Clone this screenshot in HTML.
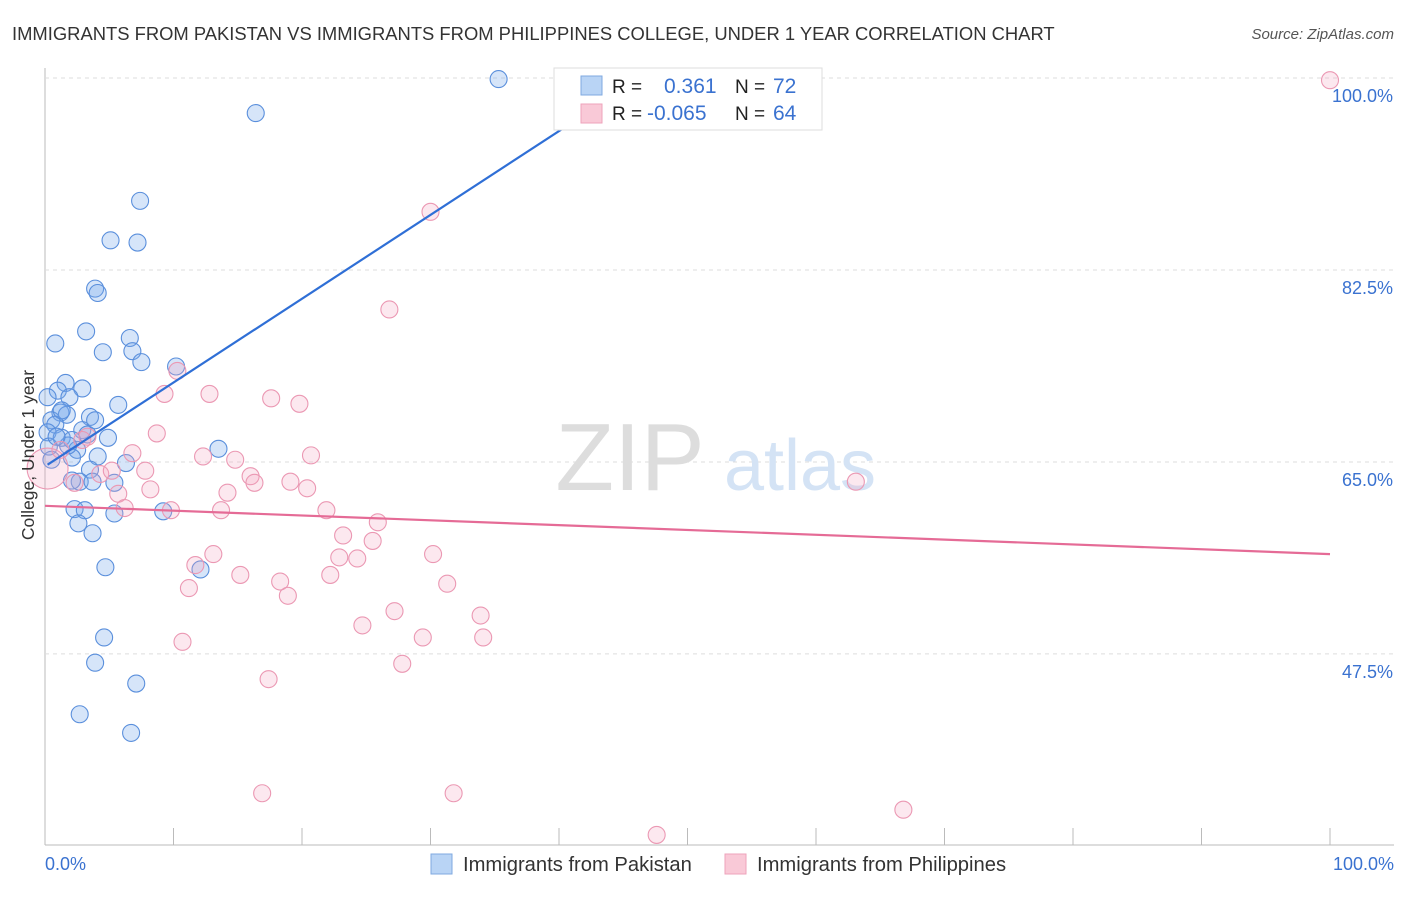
<!DOCTYPE html>
<html><head><meta charset="utf-8"><style>
body{margin:0;background:#fff;font-family:"Liberation Sans",sans-serif}
svg text{font-family:"Liberation Sans",sans-serif}
</style></head><body>
<svg width="1406" height="892">
<text x="12" y="40" font-size="18.4" fill="#333">IMMIGRANTS FROM PAKISTAN VS IMMIGRANTS FROM PHILIPPINES COLLEGE, UNDER 1 YEAR CORRELATION CHART</text>
<text x="1394" y="39" font-size="15" fill="#555" font-style="italic" text-anchor="end">Source: ZipAtlas.com</text>
<g id="grid"></g>
<text x="630" y="490" font-size="96" fill="#ddd" text-anchor="middle" font-family="Liberation Serif">ZIP</text>
<text x="800" y="490" font-size="72" fill="#d4e3f5" text-anchor="middle">atlas</text>
<g id="marks"></g>
<text x="34" y="455" font-size="17.5" fill="#333" text-anchor="middle" transform="rotate(-90 34 455)">College, Under 1 year</text>
<g>
<rect x="554" y="68" width="268" height="62" fill="#fff" stroke="#ddd"/>
<rect x="581" y="76" width="21" height="19" fill="#b9d4f5" stroke="#7fa9e0"/>
<rect x="581" y="104" width="21" height="19" fill="#f9c9d7" stroke="#eea3bb"/>
<text x="612" y="93" font-size="19" fill="#222">R =</text><text x="664" y="93" font-size="21" fill="#3a72d0">0.361</text>
<text x="735" y="93" font-size="19" fill="#222">N =</text><text x="773" y="93" font-size="21" fill="#3a72d0">72</text>
<text x="612" y="120" font-size="19" fill="#222">R =</text><text x="647" y="120" font-size="21" fill="#3a72d0">-0.065</text>
<text x="735" y="120" font-size="19" fill="#222">N =</text><text x="773" y="120" font-size="21" fill="#3a72d0">64</text>
</g>
<g>
<rect x="431" y="854" width="21" height="20" fill="#b9d4f5" stroke="#7fa9e0"/>
<text x="463" y="871" font-size="20.2" fill="#333">Immigrants from Pakistan</text>
<rect x="725" y="854" width="21" height="20" fill="#f9c9d7" stroke="#eea3bb"/>
<text x="757" y="871" font-size="20.2" fill="#333">Immigrants from Philippines</text>
</g>
</svg>
<script>
const yTicks=[100,82.5,65,47.5];
const yTickLabels=["100.0%","82.5%","65.0%","47.5%"];
const xEndLabels=["0.0%","100.0%"];
const blueX=[35.3,16.4,7.4,5.1,7.2,3.9,4.1,3.2,0.8,6.6,4.5,6.8,7.5,10.2,1.6,2.9,1.0,1.9,0.2,5.7,1.2,1.7,3.5,0.5,0.8,2.9,0.2,4.9,1.3,2.1,3.3,13.5,0.3,2.5,4.1,2.1,6.3,3.5,0.5,2.7,3.7,2.1,5.4,2.3,3.1,5.4,9.2,2.6,3.7,12.1,4.7,4.6,3.9,7.1,2.7,6.7,1.3,3.9,1.8,0.9];
const blueY=[99.9,96.8,88.8,85.2,85.0,80.8,80.4,76.9,75.8,76.3,75.0,75.1,74.1,73.7,72.2,71.7,71.5,70.9,70.9,70.2,69.5,69.3,69.1,68.8,68.4,67.9,67.7,67.2,67.2,67.0,67.5,66.2,66.4,66.1,65.5,65.4,64.9,64.3,65.2,63.2,63.2,63.3,63.1,60.7,60.6,60.3,60.5,59.4,58.5,55.2,55.4,49.0,46.7,44.8,42.0,40.3,69.7,68.8,66.5,67.3];
const pinkX=[100,30.0,26.8,10.3,9.3,12.8,17.6,19.8,8.7,3.3,6.8,12.3,14.8,20.7,7.8,4.3,16.0,16.3,19.1,20.4,8.2,14.2,5.7,63.1,6.2,9.8,13.7,21.9,25.9,23.2,25.5,13.1,30.2,22.9,24.3,11.7,15.2,22.2,18.3,31.3,11.2,18.9,27.2,33.9,24.7,29.4,34.1,10.7,27.8,17.4,16.9,31.8,66.8,47.6,0.2,2.3,1.2,5.2,2.9];
const pinkY=[99.8,87.8,78.9,73.3,71.2,71.2,70.8,70.3,67.6,67.3,65.8,65.5,65.2,65.6,64.2,63.9,63.7,63.1,63.2,62.6,62.5,62.2,62.1,63.2,60.8,60.6,60.6,60.6,59.5,58.3,57.8,56.6,56.6,56.3,56.2,55.6,54.7,54.7,54.1,53.9,53.5,52.8,51.4,51.0,50.1,49.0,49.0,48.6,46.6,45.2,34.8,34.8,33.3,31.0,64.4,63.1,66.1,64.2,67.0];
const pinkR=[8,8,8,8,8,8,8,8,8,8,8,8,8,8,8,8,8,8,8,8,8,8,8,8,8,8,8,8,8,8,8,8,8,8,8,8,8,8,8,8,8,8,8,8,8,8,8,8,8,8,8,8,8,8,20,8,8,8,8];
const blueLine=[64.6,0.764];
const pinkLine=[61.0,-0.044];
const NS="http://www.w3.org/2000/svg";
const X=v=>45+v*12.85, Y=v=>78+(100-v)*10.97;
const grid=document.getElementById('grid'), marks=document.getElementById('marks');
function mk(tag,a,p){const e=document.createElementNS(NS,tag);for(const k in a)e.setAttribute(k,a[k]);p.appendChild(e);return e;}
const ax=mk('line',{x1:45,y1:68,x2:45,y2:845,stroke:'#bbb'},grid);


const bx=mk('line',{x1:45,y1:845,x2:1394,y2:845,stroke:'#bbb'},grid);


for(let i=0;i<=10;i++){const t=mk('line',{x1:X(i*10),y1:828,x2:X(i*10),y2:845,stroke:'#bbb'},grid);

}
yTicks.forEach((v,i)=>{const l=mk('line',{x1:45,y1:Y(v),x2:1394,y2:Y(v),stroke:'#ddd','stroke-dasharray':'4,4'},grid);


const t=mk('text',{x:1393,y:Y(v)+24,'font-size':18,fill:'#3a72d0','text-anchor':'end'},grid);t.textContent=yTickLabels[i];

});
const xl0=mk('text',{x:45,y:870,'font-size':18,fill:'#3a72d0'},grid);xl0.textContent=xEndLabels[0];


const xl1=mk('text',{x:1394,y:870,'font-size':18,fill:'#3a72d0','text-anchor':'end'},grid);xl1.textContent=xEndLabels[1];


blueX.forEach((x,i)=>{const c=mk('circle',{cx:X(x),cy:Y(blueY[i]),r:8.5,fill:'rgba(120,170,235,0.3)',stroke:'#5a8fdc','stroke-width':1.1},marks);

});
pinkX.forEach((x,i)=>{const c=mk('circle',{cx:X(x),cy:Y(pinkY[i]),r:pinkR[i]+0.5,fill:'rgba(245,165,190,0.25)',stroke:'#eb98b3','stroke-width':1.1},marks);

});
const bl=mk('line',{x1:X(0.2),y1:Y(blueLine[0]+blueLine[1]*0.2),x2:X(45),y2:Y(blueLine[0]+blueLine[1]*45),stroke:'#2f6fd6','stroke-width':2.2},marks);


const pl=mk('line',{x1:X(0),y1:Y(pinkLine[0]),x2:X(100),y2:Y(pinkLine[0]+pinkLine[1]*100),stroke:'#e56b96','stroke-width':2.2},marks);


</script>
</body></html>
